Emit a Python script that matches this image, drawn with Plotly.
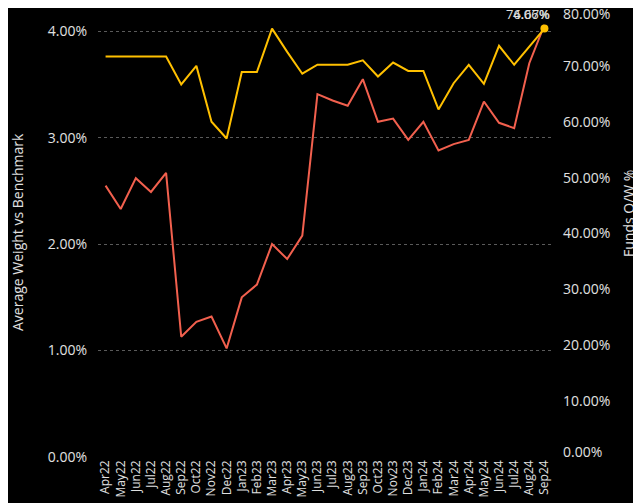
import plotly.graph_objects as go

months = ["Apr22","May22","Jun22","Jul22","Aug22","Sep22","Oct22","Nov22","Dec22",
          "Jan23","Feb23","Mar23","Apr23","May23","Jun23","Jul23","Aug23","Sep23",
          "Oct23","Nov23","Dec23","Jan24","Feb24","Mar24","Apr24","May24","Jun24",
          "Jul24","Aug24","Sep24"]

avg_weight = [2.55, 2.33, 2.62, 2.49, 2.67, 1.13, 1.27, 1.32, 1.02,
              1.50, 1.62, 2.00, 1.86, 2.08, 3.41, 3.35, 3.30, 3.55,
              3.15, 3.18, 2.98, 3.15, 2.88, 2.94, 2.98, 3.34, 3.14,
              3.09, 3.70, 4.06]

funds_ow = [71.67, 71.67, 71.67, 71.67, 71.67, 66.67, 70.0, 60.0, 57.0,
            68.9, 68.9, 76.67, 72.5, 68.6, 70.2, 70.2, 70.2, 71.0,
            68.1, 70.6, 69.1, 69.1, 62.2, 66.9, 70.2, 66.8, 73.6,
            70.2, 73.5, 76.67]

left_ticks = [0, 1, 2, 3, 4]
right_ticks = [0, 10, 20, 30, 40, 50, 60, 70, 80]

RED = "#F2604E"
YEL = "#FFC000"
TXT = "#E0E0E0"
FONT = "Open Sans"

# page has an 8px body margin; figure sized to fill the remaining window
W, H = 633, 495
ML, MR, MT, MB = 90, 89, 2, 46
PH = H - MT - MB
PAGE_OFF = 8
R_MAX = 80

# edge labels of the right axis are kept inside the plot area (clamped like the original)
label_px = 4.5
right_tick_pos = list(right_ticks)
right_tick_pos[0] = right_ticks[0] + label_px * R_MAX / PH
right_tick_pos[-1] = right_ticks[-1] - label_px * R_MAX / PH

fig = go.Figure()
fig.add_trace(go.Scatter(x=months, y=avg_weight, mode="lines", name="Average Weight vs Benchmark",
                         line=dict(color=RED, width=2), yaxis="y"))
fig.add_trace(go.Scatter(x=months, y=funds_ow, mode="lines", name="Funds O/W %",
                         line=dict(color=YEL, width=2), yaxis="y2"))
fig.add_trace(go.Scatter(x=[months[-1]], y=[funds_ow[-1]], mode="markers",
                         marker=dict(color=YEL, size=8), yaxis="y2", showlegend=False))

for val in (f"{funds_ow[-1]:.2f}%", f"{avg_weight[-1]:.2f}%"):
    fig.add_annotation(x=months[-1], y=funds_ow[-1], yref="y2", text=val,
                       showarrow=False, xanchor="right", yanchor="bottom", xshift=8, yshift=4,
                       font=dict(color=TXT, size=13, family=FONT))

fig.add_annotation(x=0, xref="paper", xshift=-(ML - (18 - PAGE_OFF)),
                   y=(H - MB - (232 - PAGE_OFF)) / PH, yref="paper",
                   text="Average Weight vs Benchmark",
                   showarrow=False, textangle=-90, xanchor="center", yanchor="middle",
                   font=dict(color=TXT, size=14, family=FONT))
fig.add_annotation(x=1, xref="paper", xshift=((628 - PAGE_OFF) - (W - MR)),
                   y=(H - MB - (214 - PAGE_OFF)) / PH, yref="paper",
                   text="Funds O/W %",
                   showarrow=False, textangle=-90, xanchor="center", yanchor="middle",
                   font=dict(color=TXT, size=14, family=FONT))

fig.update_layout(
    width=W, height=H,
    paper_bgcolor="black", plot_bgcolor="black",
    margin=dict(l=ML, r=MR, t=MT, b=MB, autoexpand=False),
    showlegend=False,
    font=dict(family=FONT, color=TXT, size=13),
    xaxis=dict(type="category", range=[-0.5, 29.5], showgrid=False, zeroline=False,
               tickmode="array", tickvals=months, ticktext=months,
               tickangle=-90, tickfont=dict(size=12, color=TXT), ticks="", showline=False,
               automargin=False, ticklabeloverflow="allow"),
    yaxis=dict(range=[0, 4.2], tickvals=left_ticks,
               ticktext=[f"{v:.2f}%" for v in left_ticks],
               showgrid=True, gridcolor="#5a5a5a", griddash="dot", gridwidth=1,
               zeroline=False, ticks="", ticklabelstandoff=10, automargin=False,
               ticklabeloverflow="allow",
               tickfont=dict(size=14, color=TXT)),
    yaxis2=dict(range=[0, R_MAX], tickmode="array", tickvals=right_tick_pos,
                ticktext=[f"{v:.2f}%" for v in right_ticks],
                overlaying="y", side="right", showgrid=False, zeroline=False, ticks="",
                ticklabelstandoff=10, automargin=False, ticklabeloverflow="allow",
                tickfont=dict(size=14, color=TXT)),
)

fig.write_html("out.html")
